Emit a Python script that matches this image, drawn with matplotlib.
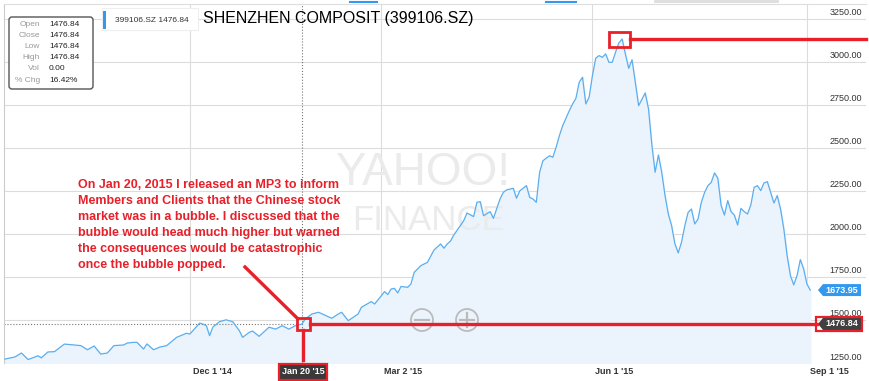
import numpy as np
import matplotlib.pyplot as plt
from matplotlib.patches import Rectangle, Polygon, Circle, FancyBboxPatch
from matplotlib.lines import Line2D
from matplotlib.transforms import IdentityTransform

plt.rcParams['font.family'] = ['Liberation Sans', 'DejaVu Sans']

# ---------------- data (trading session number, close) ----------------
session = [0, 3, 5, 7, 10, 11, 13, 15, 18, 23, 25, 27, 29, 31, 33, 36, 37, 39, 40, 42,
           43, 45, 47, 49, 52, 55, 56, 59, 60, 61, 62, 63, 65, 67, 69, 71, 72, 74, 75, 77,
           80, 82, 84, 86, 88, 90, 91, 93, 95, 99, 101, 102, 104, 107, 108, 111, 112, 114,
           115, 116, 117, 118, 119, 120, 122, 123, 124, 126, 128, 130, 132, 133, 134, 135,
           136, 139, 140, 142, 143, 144, 145, 147, 148, 150, 151, 152, 154, 155, 156, 158,
           159, 160, 161, 162, 163, 165, 166, 167, 168, 169, 171, 172, 173, 174, 175, 176,
           177, 178, 179, 180, 181, 182, 183, 184, 185, 186, 187, 188, 189, 190, 191, 192,
           194, 195, 196, 197, 198, 199, 200, 201, 202, 203, 204, 205, 206, 207, 208, 209,
           210, 211, 212, 213, 214, 215, 216, 217, 218, 219, 220, 221, 222, 223, 224, 225,
           226, 227, 228, 229, 230, 231, 232, 233, 234, 235, 236, 237, 238, 239, 240, 241,
           242, 243, 244]
close = [1273, 1285, 1308, 1270, 1292, 1280, 1314, 1316, 1360, 1351, 1327, 1349, 1302, 1308,
         1351, 1355, 1366, 1370, 1370, 1331, 1361, 1327, 1343, 1351, 1399, 1423, 1418, 1482,
         1476, 1467, 1409, 1459, 1490, 1501, 1490, 1438, 1399, 1428, 1436, 1405, 1458, 1447,
         1467, 1447, 1467, 1476.84, 1506, 1535, 1545, 1510, 1535, 1545, 1496, 1535, 1574,
         1607, 1593, 1640, 1665, 1648, 1680, 1684, 1657, 1695, 1690, 1709, 1777, 1816, 1835,
         1907, 1942, 1917, 1942, 1959, 1994, 2077, 2122, 2101, 2184, 2188, 2106, 2130, 2091,
         2203, 2242, 2256, 2266, 2208, 2251, 2281, 2213, 2203, 2184, 2359, 2426, 2455, 2446,
         2504, 2572, 2630, 2717, 2756, 2789, 2882, 2911, 2756, 2795, 2920, 3022, 3037, 3027,
         3047, 2998, 2998, 3056, 3110, 3134, 3045, 2963, 3013, 2882, 2746, 2820, 2727, 2520,
         2359, 2459, 2359, 2223, 2116, 2048, 1942, 1890, 1952, 2048, 2126, 2145, 2058, 2087,
         2184, 2242, 2281, 2300, 2355, 2324, 2165, 2110, 2194, 2130, 2110, 2052, 2149, 2130,
         2116, 2169, 2271, 2281, 2252, 2297, 2304, 2242, 2180, 2223, 2145, 2029, 1874, 1758,
         1704, 1758, 1851, 1797, 1709, 1673.95]

tick_sessions = [56, 90, 114, 178, 243]
tick_labels = ["Dec 1 '14", "Jan 20 '15", "Mar 2 '15", "Jun 1 '15", "Sep 1 '15"]
y_levels = [1250, 1500, 1750, 2000, 2250, 2500, 2750, 3000, 3250]

info_names = ["Open", "Close", "Low", "High", "Vol", "% Chg"]
info_values = ["1476.84", "1476.84", "1476.84", "1476.84", "0.00", "16.42%"]

note = ("On Jan 20, 2015 I released an MP3 to inform\n"
        "Members and Clients that the Chinese stock\n"
        "market was in a bubble. I discussed that the\n"
        "bubble would head much higher but warned\n"
        "the consequences would be catastrophic\n"
        "once the bubble popped.")

mark_session = 90
mark_value = 1476.84

# ---------------- figure ----------------
W, H = 870, 381
RED = '#e8202a'
BLUE = '#3399ee'
fig = plt.figure(figsize=(W / 100, H / 100), dpi=100)
ax = fig.add_axes([4 / W, 18 / H, 862 / W, 359 / H])
ax.set_xlim(-0.3, 260.9)
ax.set_ylim(1250, 3337)
ax.set_xticks([])
ax.set_yticks([])
for s in ['right', 'bottom']:
    ax.spines[s].set_visible(False)
ax.spines['left'].set_color('#cccccc')
ax.spines['top'].set_color('#dddddd')

for lv in y_levels:
    ax.axhline(lv, color='#dcdcdc', lw=0.8, zorder=0)
for t in [56, 114, 178, 243]:
    ax.axvline(t, color='#dcdcdc', lw=0.8, zorder=0)

ax.fill_between(session, close, 1250, color='#ebf4fc', zorder=1)
ax.plot(session, close, color='#5aaef0', lw=0.9, zorder=3)

# crosshair
ax.plot([mark_session, mark_session], [1250, 3337], ls=':', color='#777777', lw=0.8, zorder=2)
ax.plot([-0.3, mark_session], [mark_value, mark_value], ls=':', color='#777777', lw=0.8, zorder=2)

# y labels on the right
for lv in y_levels:
    ax.annotate(f'{lv:.2f}', xy=(1, lv), xycoords=('axes fraction', 'data'),
                xytext=(-4, 6), textcoords='offset pixels', ha='right', va='center',
                fontsize=6.5, color='#333333')

# x labels
for t, lab in zip(tick_sessions, tick_labels):
    if t == mark_session:
        ax.annotate(lab, xy=(t, 0), xycoords=('data', 'axes fraction'),
                    xytext=(1, -9), textcoords='offset pixels', ha='center', va='center',
                    fontsize=6.5, fontweight='bold', color='white',
                    bbox=dict(boxstyle='square,pad=0.35', fc='#3a3a3a', ec=RED, lw=1.6),
                    zorder=6)
    else:
        ax.annotate(lab, xy=(t, 0), xycoords=('data', 'axes fraction'),
                    xytext=(3, -8), textcoords='offset pixels', ha='left', va='center',
                    fontsize=6.5, fontweight='bold', color='#333333')

ID = IdentityTransform()


def P(xd, yd):
    return ax.transData.transform((xd, yd))


def px(x, y):
    # picture pixel (from top-left) -> display
    return (x, H - y)


# watermark
ax.text(*px(423, 173), 'YAHOO!', transform=ID, fontsize=33, color='#ebebeb',
        ha='center', va='center', zorder=1.5)
ax.text(*px(428, 220), 'FINANCE', transform=ID, fontsize=25, color='#ebebeb',
        ha='center', va='center', zorder=1.5)

# zoom buttons
for cx, sign in [(422, '-'), (467, '+')]:
    c = Circle(px(cx, 320), 11, transform=ID, fc='none', ec='#bbbbbb', lw=1.3, zorder=4)
    ax.add_patch(c)
    fig.add_artist(Line2D([cx - 7, cx + 7], [H - 320, H - 320], transform=ID,
                          color='#bbbbbb', lw=1.6))
    if sign == '+':
        fig.add_artist(Line2D([cx, cx], [H - 327, H - 313], transform=ID,
                              color='#bbbbbb', lw=1.6))

# red annotations
pi = int(np.argmax(close))
pxd, pyd = P(session[pi], close[pi])
ax.add_patch(Rectangle((pxd - 13, pyd - 8), 21, 15, transform=ID, fc='none', ec=RED,
                       lw=2.0, zorder=7, clip_on=False))
fig.add_artist(Line2D([pxd + 8, W - 4], [pyd, pyd], transform=ID, color=RED, lw=2.4))

jx, jy = P(mark_session, mark_value)
ax.add_patch(Rectangle((jx - 5, jy - 6), 13, 12, transform=ID, fc='none', ec=RED,
                       lw=2.0, zorder=7, clip_on=False))
fig.add_artist(Line2D([jx + 8, 817], [jy, jy], transform=ID, color=RED, lw=2.4))
fig.add_artist(Line2D([jx + 1, jx + 1], [jy - 6, H - 360], transform=ID, color=RED, lw=2.4))
fig.add_artist(Line2D([245, jx - 5], [H - 267, jy + 6], transform=ID, color=RED, lw=2.4))

fig.text(78, H - 179, note, transform=ID, ha='left', va='top', fontsize=9,
         fontweight='bold', color=RED, linespacing=1.45)


# price tags on the right
def tag(value, text, fc, ec=None):
    y = P(0, value)[1]
    poly = [(818, y), (823, y + 6), (861, y + 6), (861, y - 6), (823, y - 6)]
    fig.add_artist(Polygon(poly, closed=True, transform=ID, fc=fc, ec='none'))
    if ec:
        fig.add_artist(Rectangle((816, y - 7), 46, 14, transform=ID, fc='none', ec=ec, lw=1.6))
    fig.text(842, y, text, transform=ID, ha='center', va='center', fontsize=6.5,
             fontweight='bold', color='white')


tag(close[-1], f'{close[-1]:.2f}', BLUE)
tag(mark_value, f'{mark_value:.2f}', '#404040', RED)

# info box
fig.add_artist(FancyBboxPatch(px(9, 89), 84, 72, boxstyle='round,pad=0,rounding_size=3',
                              transform=ID, fc='white', ec='#555555', lw=1))
for i, (n, v) in enumerate(zip(info_names, info_values)):
    yy = 24 + i * 11.2
    fig.text(*px(40, yy), n, transform=ID, ha='right', va='center', fontsize=6, color='#999999')
    fig.text(*px(49, yy), v, transform=ID, ha='left', va='center', fontsize=6, color='#222222')

# legend chip and title
fig.add_artist(Rectangle(px(102, 30), 96, 22, transform=ID, fc='white', ec='#eeeeee', lw=0.8))
fig.add_artist(Rectangle(px(103, 29), 3, 18, transform=ID, fc=BLUE, ec='none'))
fig.text(*px(115, 20), '399106.SZ 1476.84', transform=ID, ha='left', va='center',
         fontsize=6, color='#333333')
fig.text(*px(203, 19), 'SHENZHEN COMPOSIT (399106.SZ)', transform=ID, ha='left', va='center',
         fontsize=11.5, color='black')

# tabs on top edge
for x0, x1 in [(350, 377), (546, 576)]:
    fig.add_artist(Line2D([x0, x1], [H - 2, H - 2], transform=ID, color=BLUE, lw=1.5))
fig.add_artist(Line2D([655, 777], [H - 1, H - 1], transform=ID, color='#dddddd', lw=2))

fig.savefig('out.png', dpi=100)
